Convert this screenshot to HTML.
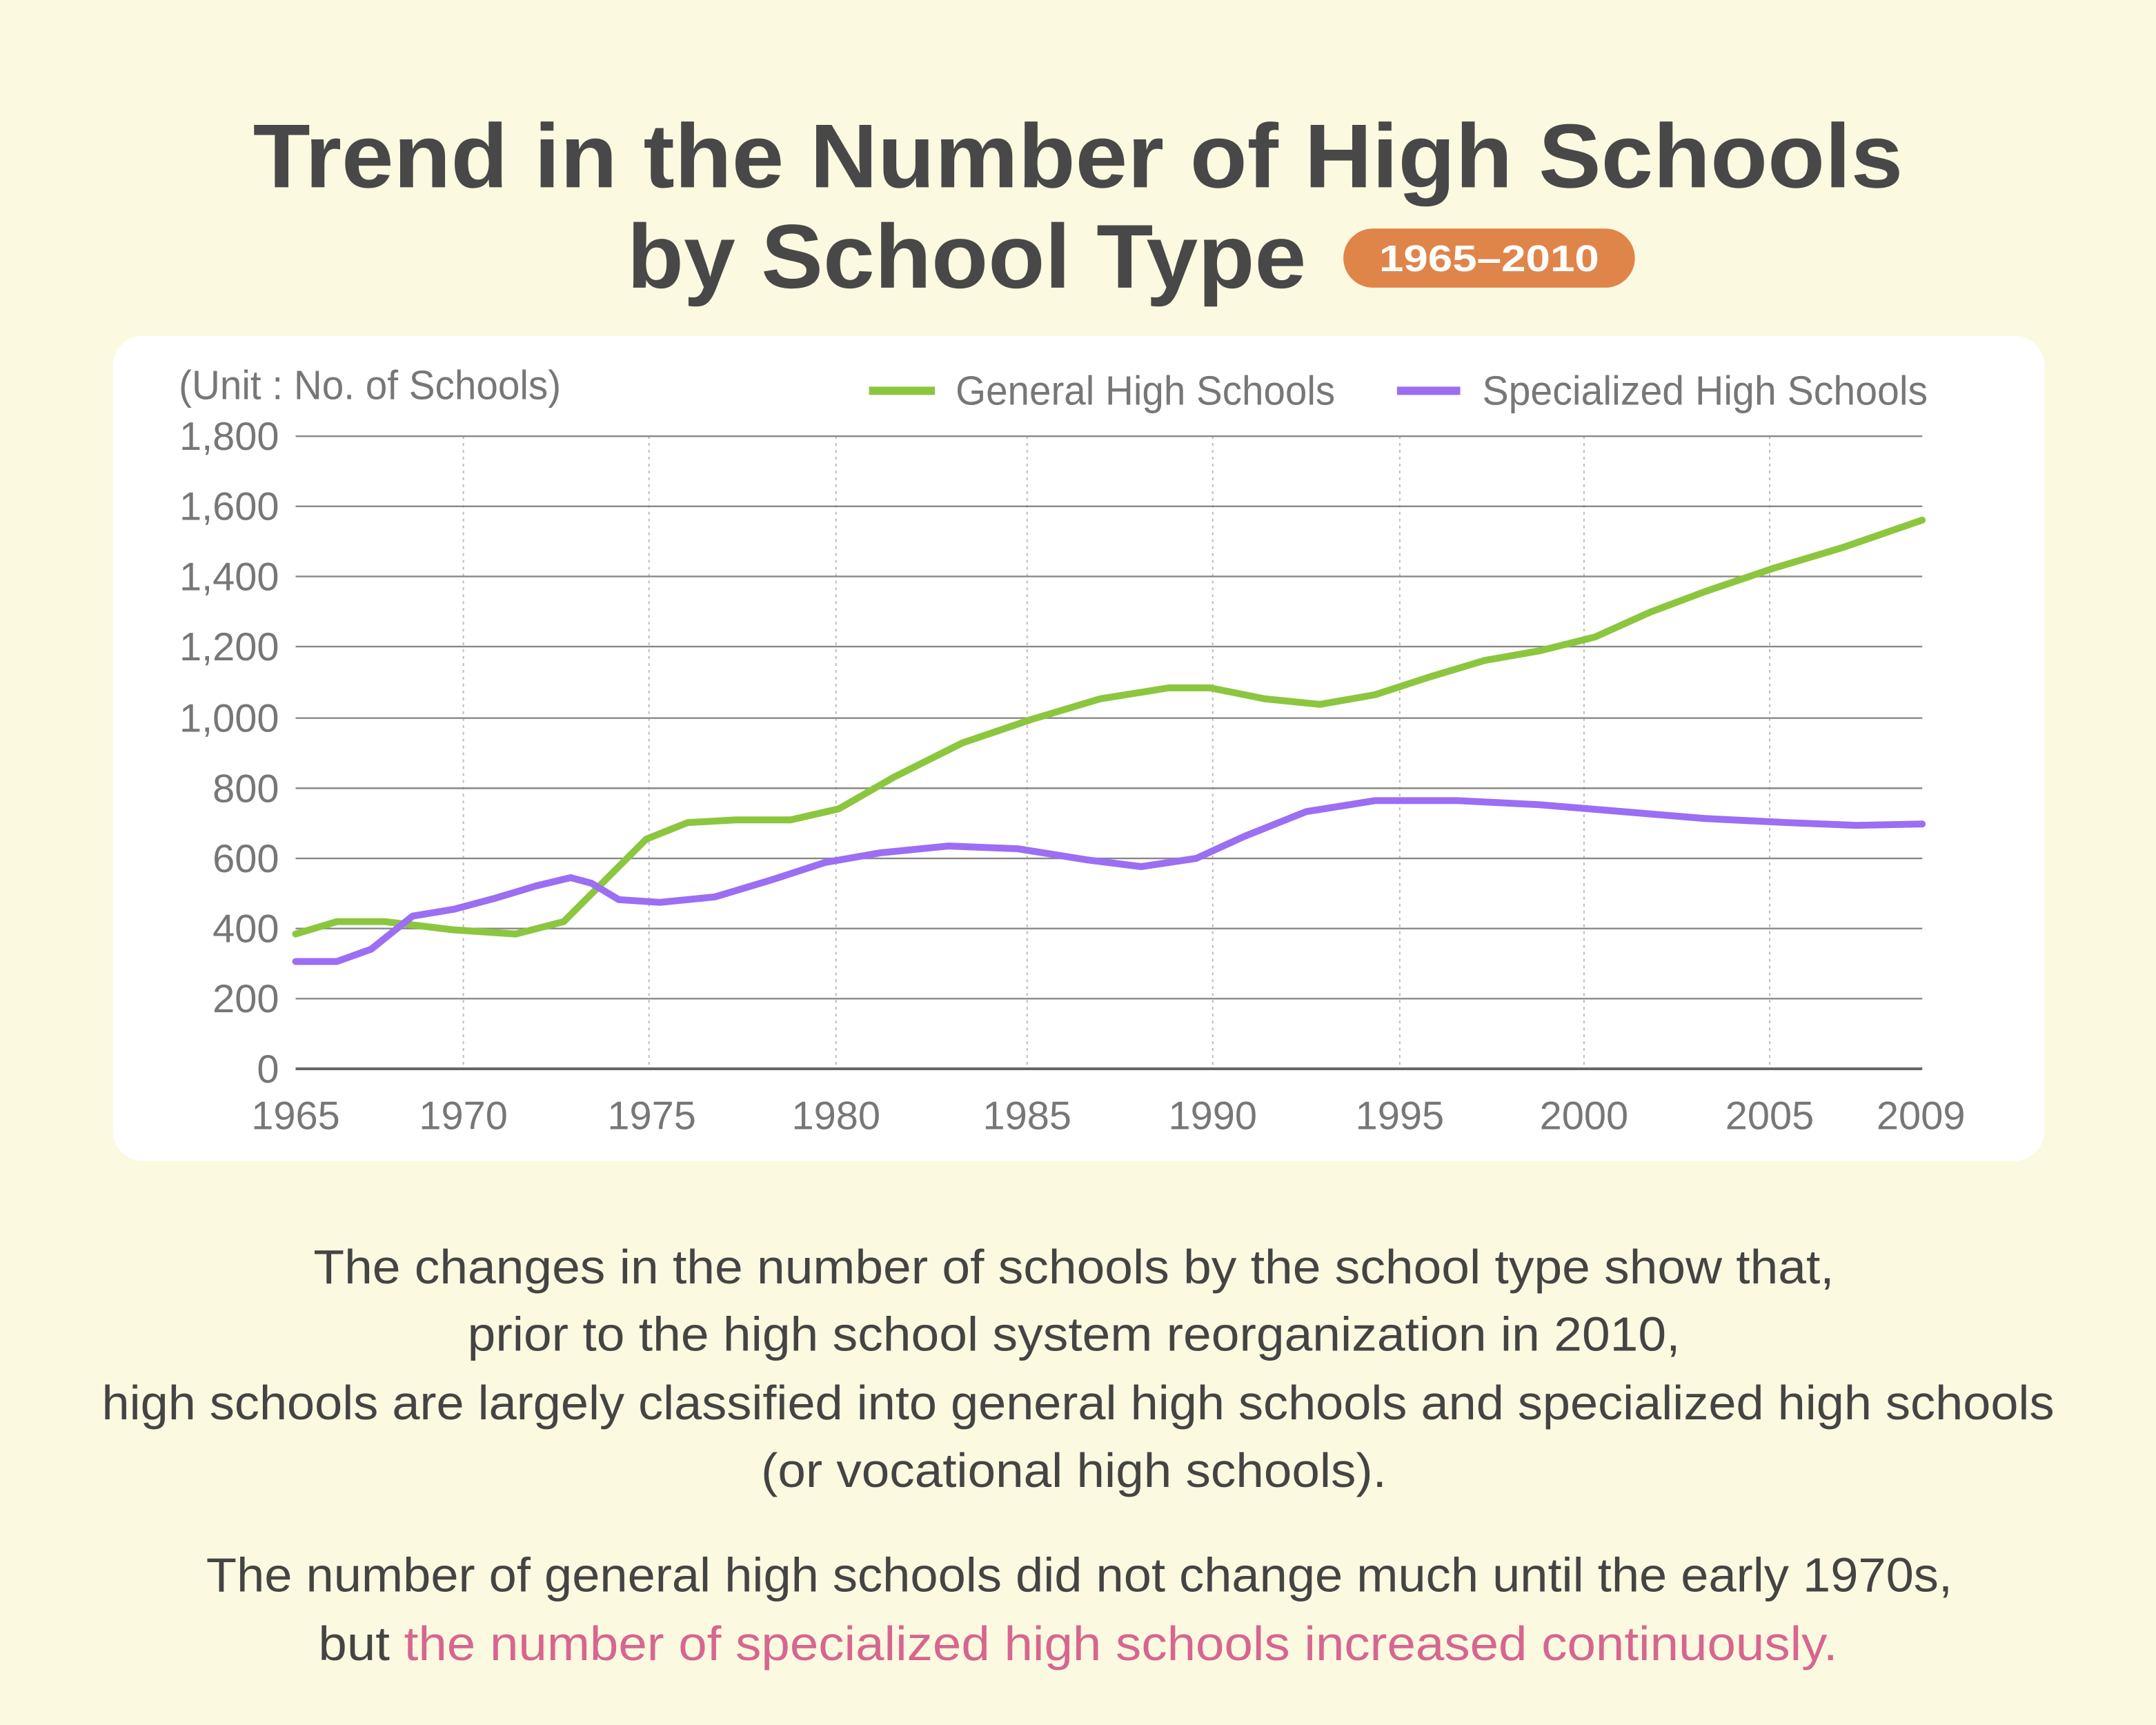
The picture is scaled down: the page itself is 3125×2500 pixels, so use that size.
<!DOCTYPE html>
<html><head><meta charset="utf-8"><style>
html,body{margin:0;padding:0;background:#fbf9e0;}
svg{display:block;}
text{font-family:"Liberation Sans",sans-serif;}
</style></head><body>
<svg width="3125" height="2500" viewBox="0 0 1568 1254" xmlns="http://www.w3.org/2000/svg">
<rect width="1568" height="1254" fill="#fbf9e0"/>
<text x="784" y="136" text-anchor="middle" font-size="66" font-weight="bold" fill="#484848" textLength="1200" lengthAdjust="spacingAndGlyphs">Trend in the Number of High Schools</text>
<text x="703" y="209" text-anchor="middle" font-size="66" font-weight="bold" fill="#484848" textLength="494" lengthAdjust="spacingAndGlyphs">by School Type</text>
<rect x="977" y="166" width="212" height="43" rx="21.5" fill="#e0854a"/>
<text x="1083" y="197" text-anchor="middle" font-size="27" font-weight="bold" fill="#fff" textLength="160" lengthAdjust="spacingAndGlyphs">1965–2010</text>
<rect x="82" y="244" width="1405" height="600" rx="22" fill="#ffffff"/>
<text x="130" y="290" font-size="30" fill="#777" textLength="278" lengthAdjust="spacingAndGlyphs">(Unit : No. of Schools)</text>
<line x1="632" y1="284" x2="680" y2="284" stroke="#8cc63f" stroke-width="6"/>
<text x="695" y="294" font-size="30" fill="#777" textLength="276" lengthAdjust="spacingAndGlyphs">General High Schools</text>
<line x1="1016" y1="284" x2="1062" y2="284" stroke="#9b6ef3" stroke-width="6"/>
<text x="1078" y="294" font-size="30" fill="#777" textLength="324" lengthAdjust="spacingAndGlyphs">Specialized High Schools</text>
<g stroke="#bbb" stroke-width="1" stroke-dasharray="2,3">
<line x1="337" y1="317" x2="337" y2="777"/><line x1="472" y1="317" x2="472" y2="777"/><line x1="608" y1="317" x2="608" y2="777"/><line x1="747" y1="317" x2="747" y2="777"/><line x1="882" y1="317" x2="882" y2="777"/><line x1="1018" y1="317" x2="1018" y2="777"/><line x1="1152" y1="317" x2="1152" y2="777"/><line x1="1287" y1="317" x2="1287" y2="777"/>
</g>
<g stroke="#888" stroke-width="1.2">
<line x1="215" y1="317" x2="1398" y2="317"/><line x1="215" y1="368" x2="1398" y2="368"/><line x1="215" y1="419" x2="1398" y2="419"/><line x1="215" y1="470" x2="1398" y2="470"/><line x1="215" y1="522" x2="1398" y2="522"/><line x1="215" y1="573" x2="1398" y2="573"/><line x1="215" y1="624" x2="1398" y2="624"/><line x1="215" y1="675" x2="1398" y2="675"/><line x1="215" y1="726" x2="1398" y2="726"/>
</g>
<line x1="215" y1="777" x2="1398" y2="777" stroke="#666" stroke-width="2"/>
<g font-size="29" fill="#777" text-anchor="end">
<text x="203" y="327">1,800</text><text x="203" y="378">1,600</text><text x="203" y="429">1,400</text><text x="203" y="480">1,200</text><text x="203" y="532">1,000</text><text x="203" y="583">800</text><text x="203" y="634">600</text><text x="203" y="685">400</text><text x="203" y="736">200</text><text x="203" y="787">0</text>
</g>
<g font-size="29" fill="#777" text-anchor="middle">
<text x="215" y="821">1965</text><text x="337" y="821">1970</text><text x="474" y="821">1975</text><text x="608" y="821">1980</text><text x="747" y="821">1985</text><text x="882" y="821">1990</text><text x="1018" y="821">1995</text><text x="1152" y="821">2000</text><text x="1287" y="821">2005</text><text x="1397" y="821">2009</text>
</g>
<polyline fill="none" stroke="#8cc63f" stroke-width="5" stroke-linejoin="round" stroke-linecap="round" points="215,679 245,670 280,670 330,676 375,679 410,670 440,640 470,610 500,598 535,596 575,596 610,588 650,565 700,540 750,523 800,508 850,500 880,500 920,508 960,512 1000,505 1040,492 1080,480 1120,473 1160,463 1200,445 1240,430 1290,413 1340,398 1398,378"/>
<polyline fill="none" stroke="#9b6ef3" stroke-width="5" stroke-linejoin="round" stroke-linecap="round" points="215,699 245,699 270,690 300,666 330,661 360,653 390,644 415,638 430,642 450,654 480,656 520,652 560,640 600,627 640,620 690,615 740,617 790,625 830,630 870,624 905,608 950,590 1000,582 1060,582 1120,585 1180,590 1240,595 1300,598 1350,600 1398,599"/>
<g font-size="35" fill="#444" text-anchor="middle">
<text x="781" y="933" textLength="1106" lengthAdjust="spacingAndGlyphs">The changes in the number of schools by the school type show that,</text>
<text x="781" y="982" textLength="882" lengthAdjust="spacingAndGlyphs">prior to the high school system reorganization in 2010,</text>
<text x="784" y="1032" textLength="1420" lengthAdjust="spacingAndGlyphs">high schools are largely classified into general high schools and specialized high schools</text>
<text x="781" y="1081" textLength="455" lengthAdjust="spacingAndGlyphs">(or vocational high schools).</text>
<text x="785" y="1157" textLength="1270" lengthAdjust="spacingAndGlyphs">The number of general high schools did not change much until the early 1970s,</text>
<text x="784" y="1207" textLength="1105" lengthAdjust="spacingAndGlyphs">but <tspan fill="#d6668f">the number of specialized high schools increased continuously.</tspan></text>
</g>
</svg>
</body></html>
